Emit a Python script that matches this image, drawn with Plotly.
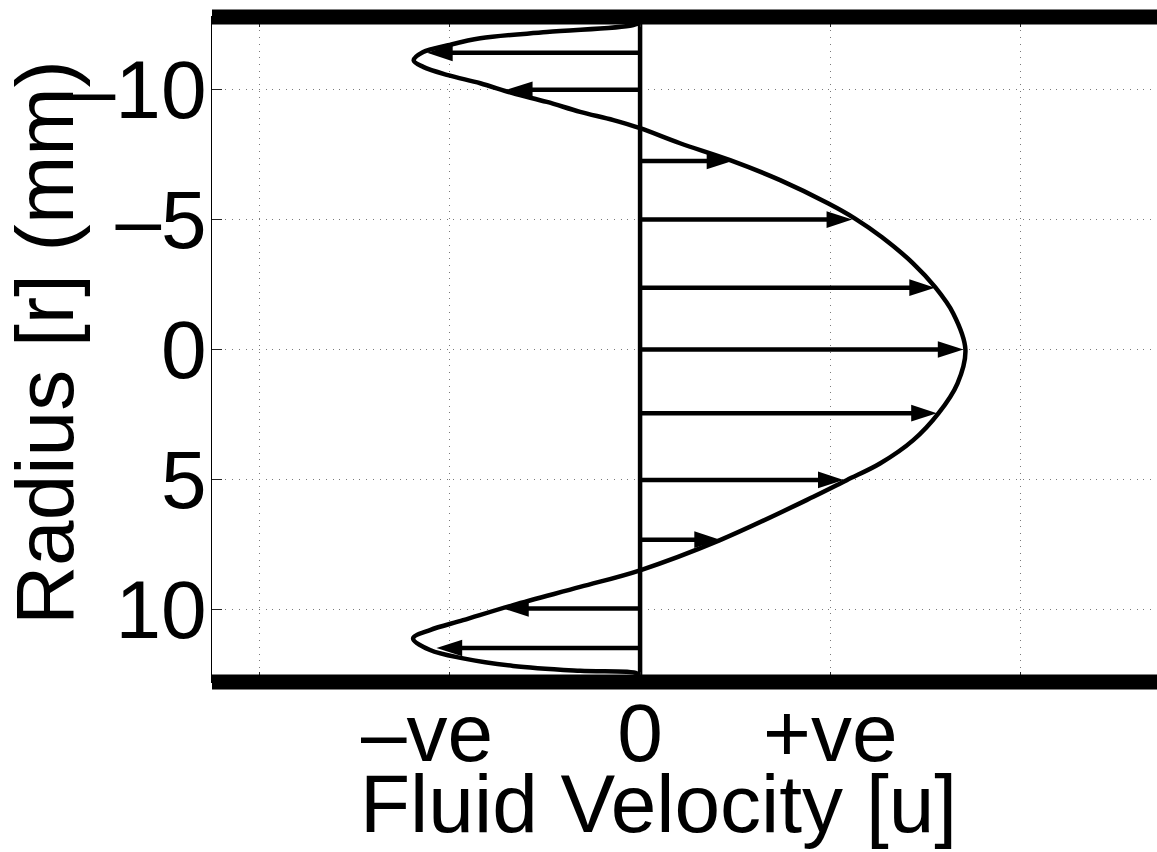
import plotly.graph_objects as go

# ---- data ----
# velocity profile (radius in mm, velocity in arbitrary units)
profile_r = [-12.6, -12.48, -12.22, -11.98, -11.71, -11.45, -11.13, -10.88, -10.56, -10.25,
             -9.87, -9.53, -9.15, -8.83, -8.52, -7.94, -7.29, -6.52, -5.62, -5.04, -4.33,
             -3.31, -2.41, -1.39, 0.0, 1.31, 2.46, 3.49, 4.39, 5.03, 5.67, 7.34, 8.5,
             9.14, 9.84, 10.42, 10.8, 11.12, 11.57, 11.89, 12.18, 12.37, 12.47, 12.6]
profile_u = [0.0, -0.04, -0.49, -0.84, -1.01, -1.14, -1.19, -1.14, -1.01, -0.84,
             -0.67, -0.49, -0.315, -0.14, 0.0, 0.21, 0.473, 0.736, 0.99, 1.13, 1.27,
             1.436, 1.55, 1.646, 1.71, 1.668, 1.568, 1.436, 1.261, 1.086, 0.911, 0.42, 0.0,
             -0.315, -0.667, -0.93, -1.104, -1.193, -1.104, -0.93, -0.667, -0.315, -0.016, 0.0]

# velocity arrows
arrow_r = [-11.42, -10.0, -7.26, -5.0, -2.38, 0.0, 2.45, 5.02, 7.32, 9.97, 11.49]
arrow_u = [-1.12, -0.70, 0.485, 1.115, 1.55, 1.70, 1.56, 1.07, 0.42, -0.72, -1.07]

wall_r = 12.8            # pipe wall radius (mm)
x_range = [-2.25, 2.717]
y_range = [12.8, -12.8]  # reversed: negative radius on top

x_tickvals = [-2, -1, 0, 1, 2]
x_ticktext = ["", "\u2013ve\u00a0\u00a0", "0", "+ve", ""]
y_tickvals = [-10, -5, 0, 5, 10]
y_ticktext = ["\u201310", "\u20135", "0", "5", "10"]

FONT = "Liberation Sans, Arial, Helvetica, sans-serif"
W, H = 1157, 852
ML, MR, MT, MB = 212, 0, 17, 170
plot_w = W - ML - MR
px_per_u = plot_w / (x_range[1] - x_range[0])
HEAD_PX = 25

fig = go.Figure()

# zero-velocity line
fig.add_trace(go.Scatter(x=[0, 0], y=[-wall_r, wall_r], mode="lines",
                         line=dict(color="black", width=4.5), hoverinfo="skip"))

# profile curve
fig.add_trace(go.Scatter(x=profile_u, y=profile_r, mode="lines",
                         line=dict(color="black", width=4.5, shape="spline", smoothing=1.0),
                         hoverinfo="skip"))

# arrow shafts
sx, sy = [], []
for r, u in zip(arrow_r, arrow_u):
    sgn = 1 if u > 0 else -1
    sx += [0, u - sgn * 0.6 * HEAD_PX / px_per_u, None]
    sy += [r, r, None]
fig.add_trace(go.Scatter(x=sx, y=sy, mode="lines",
                         line=dict(color="black", width=4.5), hoverinfo="skip"))

# arrow heads
fig.add_trace(go.Scatter(x=arrow_u, y=arrow_r, mode="markers",
                         marker=dict(symbol="arrow", size=27, color="black",
                                     angle=[90 if u > 0 else -90 for u in arrow_u],
                                     line=dict(width=0)),
                         hoverinfo="skip", cliponaxis=False))

def ypaper(v):
    return (v - y_range[0]) / (y_range[1] - y_range[0])

shapes = []
for w in (-wall_r, wall_r):
    shapes.append(dict(type="line", xref="paper", x0=0, x1=1.01, yref="paper",
                       y0=ypaper(w), y1=ypaper(w),
                       line=dict(color="black", width=15), layer="above"))

axis_common = dict(ticks="inside", ticklen=10, tickwidth=1, tickcolor="#222",
                   showline=True, linecolor="black", linewidth=1,
                   showgrid=True, gridcolor="#7a7a7a", gridwidth=1, griddash="1px,5.7px",
                   zeroline=False, tickfont=dict(family=FONT, size=82, color="black"))

fig.update_layout(
    width=W, height=H,
    margin=dict(l=ML, r=MR, t=MT, b=MB, pad=0),
    paper_bgcolor="white", plot_bgcolor="white",
    showlegend=False,
    font=dict(family=FONT, color="black"),
    xaxis=dict(range=x_range, tickmode="array", tickvals=x_tickvals, ticktext=x_ticktext,
               mirror="ticks", ticklabelstandoff=-20, **axis_common),
    yaxis=dict(range=y_range, tickmode="array", tickvals=y_tickvals, ticktext=y_ticktext,
               ticklabelstandoff=-12, **axis_common),
    shapes=shapes,
    annotations=[
        dict(text="Fluid Velocity [u]", xref="x", x=0.095, yref="paper", y=-0.183,
             xanchor="center", yanchor="middle", showarrow=False,
             font=dict(family=FONT, size=82, color="black")),
        dict(text="Radius [r] (mm)", xref="paper", x=(44.6 - ML) / plot_w, yref="paper",
             y=(H - MB - 342.5) / (H - MT - MB), textangle=-90,
             xanchor="center", yanchor="middle", showarrow=False,
             font=dict(family=FONT, size=82, color="black")),
    ],
)

fig.write_html("out.html")
